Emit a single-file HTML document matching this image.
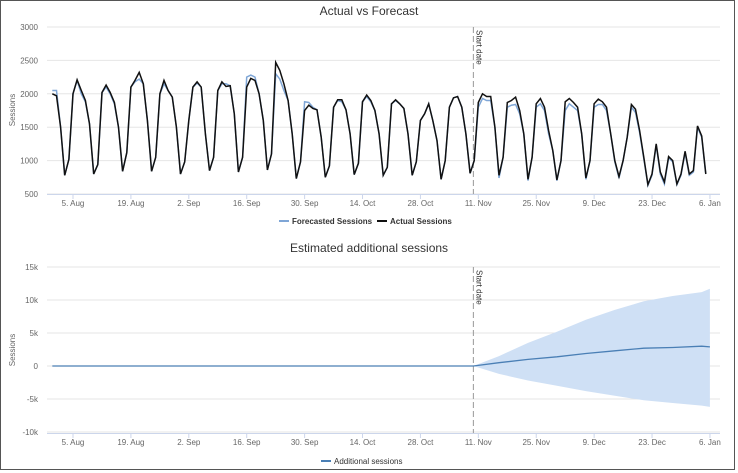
<!DOCTYPE html>
<html><head><meta charset="utf-8"><style>
html,body{margin:0;padding:0;background:#fff;}
svg{display:block;font-family:"Liberation Sans",sans-serif;}
</style></head><body>
<svg id="c" width="738" height="473">
<rect x="0.5" y="0.5" width="734" height="469" fill="#fff" stroke="#555"/>
<g id="top"></g>
<g id="bot"></g>
</svg>
<script>
const xLabels=["5. Aug","19. Aug","2. Sep","16. Sep","30. Sep","14. Oct","28. Oct","11. Nov","25. Nov","9. Dec","23. Dec","6. Jan"];
const xLabelDays=[0,14,28,42,56,70,84,98,112,126,140,154];
const startDay=-5;
const startDateDay=96.8;
const actual=[2000,1970,1500,780,1020,
2000,2210,2050,1900,1550,800,940,
2020,2130,2020,1870,1500,840,1120,
2100,2200,2320,2150,1600,840,1050,
2000,2200,2050,1950,1500,800,980,
1600,2100,2180,2100,1400,850,1050,
2050,2180,2110,2120,1700,830,1050,
2100,2230,2200,2000,1600,860,1100,
2470,2350,2150,1900,1400,730,980,
1750,1830,1780,1760,1350,750,920,
1800,1910,1910,1760,1400,790,960,
1880,1980,1900,1750,1400,780,900,
1850,1910,1850,1780,1400,780,980,
1600,1700,1850,1600,1300,720,1000,
1800,1940,1960,1800,1400,810,1000,
1870,2000,1960,1960,1500,780,1050,
1870,1900,1950,1750,1400,720,1050,
1850,1930,1800,1450,1150,710,1000,
1880,1930,1870,1800,1400,740,1000,
1850,1920,1880,1800,1400,1000,760,
1000,1350,1840,1770,1450,1050,640,800,1250,830,680,1060,1000,650,800,1140,800,850,1520,1370,800];
const forecast=[2050,2050,1500,780,1020,
2000,2200,2000,1880,1550,800,940,
2020,2100,2000,1850,1500,840,1120,
2100,2180,2220,2150,1600,840,1050,
2000,2150,2050,1950,1500,800,980,
1600,2100,2160,2100,1400,850,1050,
2050,2150,2150,2120,1700,830,1050,
2250,2280,2250,2000,1600,860,1100,
2300,2220,2050,1900,1400,730,980,
1880,1870,1800,1760,1350,750,920,
1800,1900,1880,1760,1400,790,960,
1880,1960,1880,1750,1400,780,900,
1850,1900,1850,1780,1400,780,980,
1600,1700,1850,1600,1300,720,1000,
1800,1940,1960,1800,1400,810,1000,
1800,1930,1900,1900,1500,740,1050,
1800,1830,1840,1700,1400,700,1050,
1800,1850,1750,1400,1150,700,1000,
1750,1850,1800,1750,1400,720,1000,
1800,1840,1840,1750,1400,980,740,
1000,1350,1800,1720,1420,1030,630,780,1230,800,650,1040,980,640,780,1120,780,830,1500,1350,800];
const topTicks=[500,1000,1500,2000,2500,3000];
const botTicks=[-10000,-5000,0,5000,10000,15000];
const botTickLabels=["-10k","-5k","0","5k","10k","15k"];
const addDays=[96.8,103,110,117,124,131,138,145,152,154];
const addMid=[0,500,1000,1400,1900,2300,2700,2800,3000,2900];
const addHigh=[0,1500,3500,5200,7000,8500,9800,10600,11200,11700];
const addLow=[0,-1200,-2200,-3000,-3800,-4500,-5200,-5600,-6000,-6200];

const NS="http://www.w3.org/2000/svg";
function mk(p,t,a,txt){const e=document.createElementNS(NS,t);for(const k in a)e.setAttribute(k,a[k]);if(txt!=null)e.textContent=txt;p.appendChild(e);return e;}
const X=d=>73+d*4.136;
const L=47,R=720;

function axes(g,ticks,labels,Y,y0,y1,title,titleY,ytitleY){
  const t=mk(g,'text',{x:369,y:titleY,'text-anchor':'middle','font-size':12,fill:'#333'},title);
  
  
  ticks.forEach((v,i)=>{
    const ln=mk(g,'line',{x1:L,x2:R,y1:Y(v),y2:Y(v),stroke:'#e6e6e6','stroke-width':1});
    
    
    const tx=mk(g,'text',{x:38,y:Y(v)+3,'text-anchor':'end','font-size':8,fill:'#666'},labels[i]);
    
    
  });
  const yt=mk(g,'text',{x:0,y:0,transform:`translate(15,${ytitleY}) rotate(-90)`,'text-anchor':'middle','font-size':8,fill:'#666'},'Sessions');
  
  
  const ax=mk(g,'line',{x1:L,x2:R,y1:y0+0.5,y2:y0+0.5,stroke:'#ccd6eb'});
  
  
  xLabels.forEach((s,i)=>{
    const x=X(xLabelDays[i]);
    const tk=mk(g,'line',{x1:x,x2:x,y1:y0,y2:y0+5,stroke:'#ccd6eb'});
    
    
    const tl=mk(g,'text',{x:x,y:y0+12,'text-anchor':'middle','font-size':8,fill:'#666'},s);
    
    
  });
  const sx=X(startDateDay);
  const sl=mk(g,'line',{x1:sx,x2:sx,y1:y1,y2:y0,stroke:'#999','stroke-dasharray':'6,3'});
  
  
  const st=mk(g,'text',{x:0,y:0,transform:`translate(${sx+3},${y1+3}) rotate(90)`,'font-size':8,fill:'#333'},'Start date');
  
  
}

const gt=document.getElementById('top');
const Yt=v=>194-(v-500)*(167/2500);
axes(gt,topTicks,topTicks.map(String),Yt,194,27,'Actual vs Forecast',15,110);
const pf=mk(gt,'path',{d:forecast.map((v,i)=>(i?'L':'M')+X(startDay+i).toFixed(1)+','+Yt(v).toFixed(1)).join(''),fill:'none',stroke:'#7fa6d6','stroke-width':1.5});


const pa=mk(gt,'path',{d:actual.map((v,i)=>(i?'L':'M')+X(startDay+i).toFixed(1)+','+Yt(v).toFixed(1)).join(''),fill:'none',stroke:'#111','stroke-width':1.5});


const lg1=mk(gt,'g',{});


mk(lg1,'line',{x1:279,x2:289,y1:221,y2:221,stroke:'#7fa6d6','stroke-width':2});
mk(lg1,'text',{x:292,y:224,'font-size':8,'font-weight':'bold',fill:'#333'},'Forecasted Sessions');
const lg2=mk(gt,'g',{});


mk(lg2,'line',{x1:377,x2:387,y1:221,y2:221,stroke:'#111','stroke-width':2});
mk(lg2,'text',{x:390,y:224,'font-size':8,'font-weight':'bold',fill:'#333'},'Actual Sessions');

const gb=document.getElementById('bot');
const Yb=v=>366-v*(33/5000);
axes(gb,botTicks,botTickLabels,Yb,433,267,'Estimated additional sessions',252,350);
let area='M'+X(addDays[0])+','+Yb(addHigh[0]);
addDays.forEach((d,i)=>{area+='L'+X(d).toFixed(1)+','+Yb(addHigh[i]).toFixed(1);});
for(let i=addDays.length-1;i>=0;i--)area+='L'+X(addDays[i]).toFixed(1)+','+Yb(addLow[i]).toFixed(1);
const ar=mk(gb,'path',{d:area+'Z',fill:'#cfe0f5'});


let ml='M'+X(startDay)+','+Yb(0)+'L'+X(addDays[0])+','+Yb(addMid[0]);
addDays.forEach((d,i)=>{ml+='L'+X(d).toFixed(1)+','+Yb(addMid[i]).toFixed(1);});
const mlp=mk(gb,'path',{d:ml,fill:'none',stroke:'#4a7fb5','stroke-width':1.3});


const lg3=mk(gb,'g',{});


mk(lg3,'line',{x1:321,x2:331,y1:461,y2:461,stroke:'#4a7fb5','stroke-width':2});
mk(lg3,'text',{x:334,y:464,'font-size':8,fill:'#333'},'Additional sessions');
</script>
</body></html>
